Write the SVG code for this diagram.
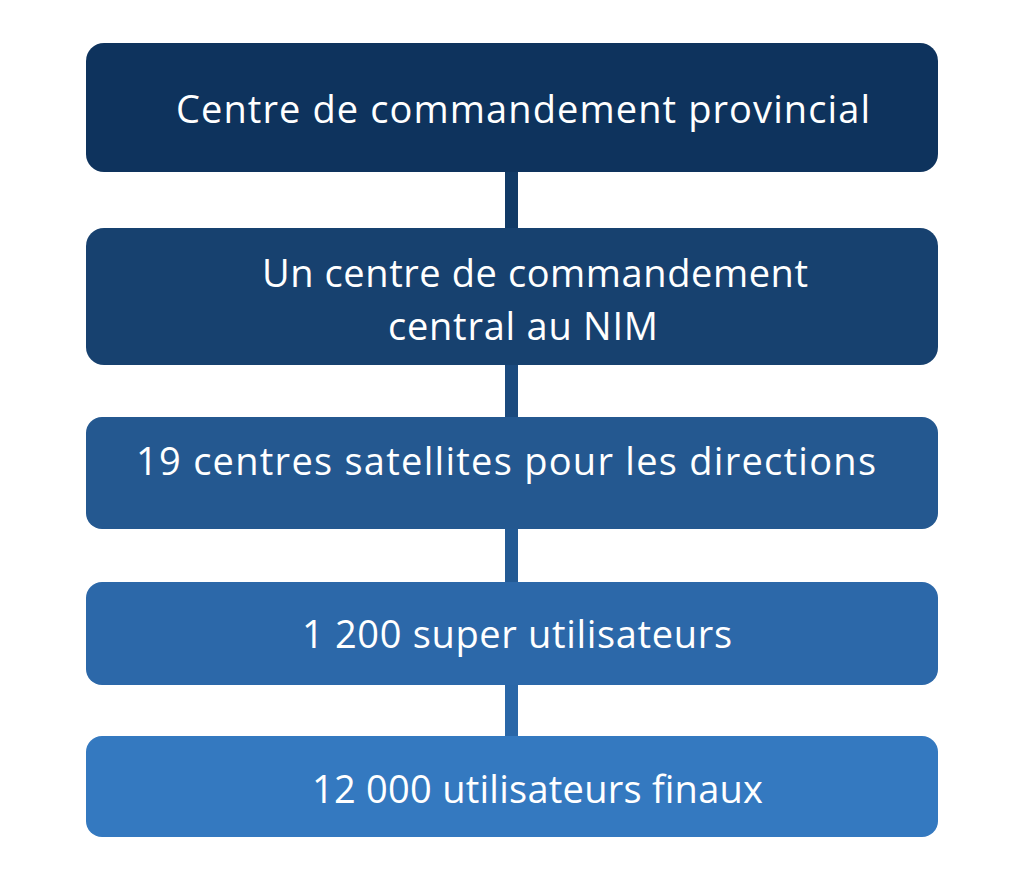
<svg xmlns="http://www.w3.org/2000/svg" width="1024" height="893" viewBox="0 0 1024 893">
<style>
.lbl{font-family:"Open Sans","Liberation Sans",sans-serif;font-size:38px;font-weight:500;fill:#ffffff}
</style>
<rect width="1024" height="893" fill="#ffffff"/>
<g id="connectors">
<rect x="505" y="170" width="13" height="60" fill="#113a66"/>
<rect x="505" y="363" width="13" height="56" fill="#1b4a7e"/>
<rect x="505" y="527" width="13" height="57" fill="#235a94"/>
<rect x="505" y="683" width="13" height="55" fill="#2a67a8"/>
</g>
<g id="node1">
<rect x="86" y="43" width="852" height="129" rx="18" fill="#0e335d"/>
<text class="lbl" x="176" y="123" textLength="694">Centre de commandement provincial</text>
</g>
<g id="node2">
<rect x="86" y="228" width="852" height="137" rx="18" fill="#17416f"/>
<text class="lbl" x="262" y="287" textLength="546">Un centre de commandement</text>
<text class="lbl" x="388" y="340" textLength="270">central au NIM</text>
</g>
<g id="node3">
<rect x="86" y="417" width="852" height="112" rx="16" fill="#245890"/>
<text class="lbl" x="136" y="475" textLength="740">19 centres satellites pour les directions</text>
</g>
<g id="node4">
<rect x="86" y="582" width="852" height="103" rx="16" fill="#2c68a9"/>
<text class="lbl" x="302" y="648" textLength="430">1 200 super utilisateurs</text>
</g>
<g id="node5">
<rect x="86" y="736" width="852" height="101" rx="16" fill="#3479c0"/>
<text class="lbl" x="312" y="803" textLength="451">12 000 utilisateurs finaux</text>
</g>
</svg>
